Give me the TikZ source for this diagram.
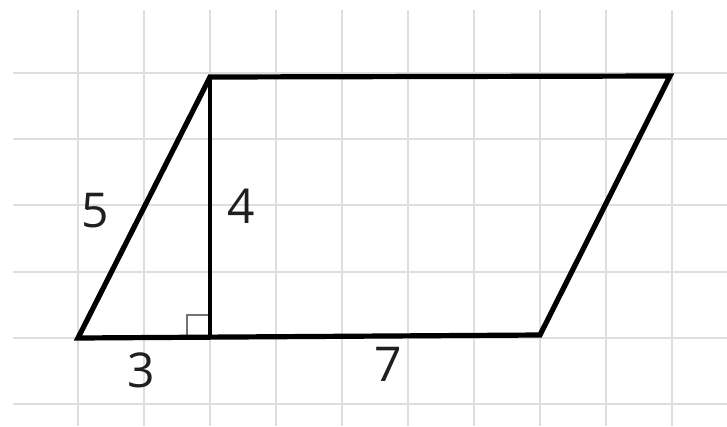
\documentclass[tikz,border=0pt]{standalone}
\usepackage{fontspec}
\setmainfont{Open Sans}
\tikzset{
  gridline/.style={draw=black!13, line width=1.4pt},
  edge/.style={draw=black, line width=5.2pt, line join=miter},
  heightline/.style={draw=black, line width=4.4pt},
  rightmark/.style={draw=black!55, line width=1.6pt},
  lbl/.style={font=\fontsize{48}{48}\selectfont, text=black!88, inner sep=0pt}
}
\begin{document}
\begin{tikzpicture}[x=1pt,y=-1pt]
\useasboundingbox (0,0) rectangle (727,426);
\fill[white] (0,0) rectangle (727,426);
% grid
\foreach \gx in {78,144,210,276,342,408,474,540,606,672}
  \draw[gridline] (\gx,10) -- (\gx,426);
\foreach \gy in {73,139,205,272,338,404}
  \draw[gridline] (13,\gy) -- (727,\gy);
% vertices
\coordinate (A) at (78,338);
\coordinate (B) at (210,77);
\coordinate (C) at (670,76);
\coordinate (D) at (540,335);
\coordinate (H) at (210,337.5);
% right angle mark
\draw[rightmark] (187,337) -- (187,315) -- (210,315);
% height
\draw[heightline] (B) -- (H);
% parallelogram
\draw[edge] (A) -- (B) -- (C) -- (D) -- cycle;
% labels
\node[lbl] (l5) at (95,211) {5};
\node[lbl] (l4) at (241,206) {4};
\node[lbl] (l3) at (141,370) {3};
\node[lbl] (l7) at (388,364) {7};
\end{tikzpicture}
\end{document}
